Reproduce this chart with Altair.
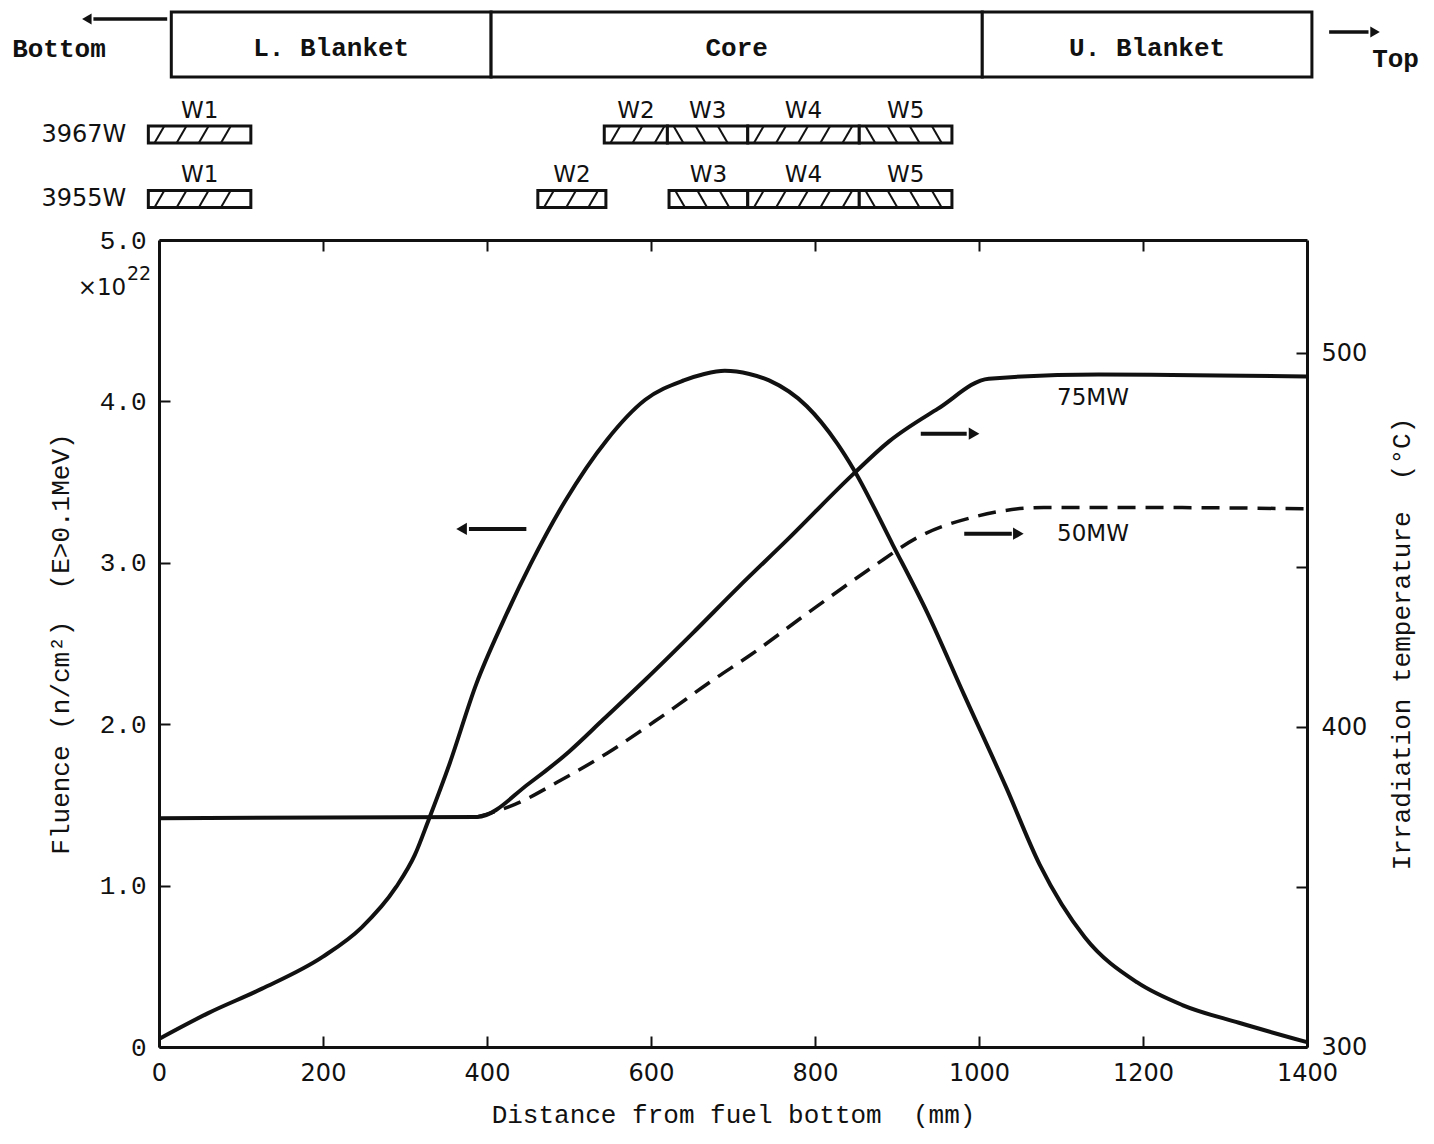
import altair as alt
import pandas as pd

# ---------------- data ----------------
# Fast-neutron fluence (x10^22 n/cm2, E>0.1MeV) vs distance from fuel bottom (mm)
flu_x = [0, 60, 125, 200, 247, 289, 312, 329, 354, 387, 420, 453, 495, 546, 593, 640,
         665, 690, 720, 744, 790, 827, 847, 895, 937, 982, 1033, 1074, 1129, 1193, 1248, 1317, 1400]
flu_y = [0.05, 0.21, 0.36, 0.56, 0.74, 0.99, 1.19, 1.41, 1.75, 2.25, 2.64, 2.99, 3.38, 3.76, 4.01, 4.13,
         4.17, 4.19, 4.17, 4.13, 3.97, 3.74, 3.58, 3.11, 2.69, 2.18, 1.61, 1.13, 0.68, 0.40, 0.26, 0.15, 0.03]

# Irradiation temperature (deg C), 75 MW (solid) and 50 MW (dashed)
t75_x = [0, 388, 452, 500, 542, 594, 650, 707, 767, 845, 890, 950, 1012, 1146, 1400]
t75_y = [371.5, 371.9, 382.5, 392.3, 402.4, 415.0, 429.1, 443.8, 456.5, 471.4, 479.3, 487.0,
         494.0, 495.0, 494.5]
t50_x = [388, 434, 486, 547, 612, 678, 719, 790, 868, 927, 996, 1079, 1202, 1400]
t50_y = [371.9, 375.8, 382.8, 391.9, 403.1, 415.1, 422.1, 435.4, 449.6, 457.1, 461.8, 463.9,
         463.9, 463.6]

# Core / blanket regions (mm)
region_names = ["L. Blanket", "Core", "U. Blanket"]
region_start = [15, 405, 1004]
region_end = [405, 1004, 1406]

# Specimen positions (mm)
spec_rows = ["3967W"] * 5 + ["3955W"] * 5
spec_names = ["W1", "W2", "W3", "W4", "W5"] * 2
spec_start = [-13, 543, 620, 718, 854, -13, 462, 622, 718, 854]
spec_end = [112, 620, 718, 854, 967, 112, 545, 718, 854, 967]
spec_hatch = ["/", "/", "\\", "/", "\\"] * 2

# axis ticks
x_ticks = [0, 200, 400, 600, 800, 1000, 1200, 1400]
x_top_ticks = [200, 400, 600, 800, 1000, 1200]
flu_ticks = [0, 1, 2, 3, 4, 5]
temp_ticks = [300, 350, 400, 450, 500]

# ---------------- styling ----------------
MONO = "Liberation Mono"
SANS = "DejaVu Sans"
W, H = 1148, 807
INK = "#111111"

# diagram layout (level above the plot top, in units of its own scale)
row_level = {"3967W": 105.5, "3955W": 41.0}
BAR_HALF = 8.5
BOX_TOP, BOX_BOT, BOX_TXT = 228, 163, 192

# ---------------- scales ----------------
xscale = alt.Scale(domain=[0, 1400], nice=False, zero=False)
flu_scale = alt.Scale(domain=[0, 5], nice=False, zero=False)
temp_scale = alt.Scale(domain=[300, 450, 500, 526.3], range=[H, 327, 113, 0], nice=False, zero=False)
diag_scale = alt.Scale(domain=[0, 235], range=[0, -235], nice=False, zero=False)

inward = {"expr": "-11"}

x_bottom_axis = alt.Axis(values=x_ticks, format="d", title="Distance from fuel bottom\u00a0\u00a0(mm)",
                         titleFont=MONO, titleFontSize=26, titleFontWeight="normal", titleColor=INK,
                         titlePadding=16, labelFont=SANS, labelFontSize=24, labelColor=INK,
                         labelPadding=25, tickSize=inward, tickWidth=2, tickColor=INK,
                         domainWidth=3, domainColor=INK, grid=False, labelFlush=False)
x_top_axis = alt.Axis(orient="top", values=x_top_ticks, labels=False, title=None,
                      tickSize=inward, tickWidth=2, tickColor=INK,
                      domainWidth=3, domainColor=INK, grid=False)
left_axis = alt.Axis(values=flu_ticks,
                     labelExpr="datum.value == 0 ? '0' : format(datum.value, '.1f')",
                     title="Fluence (n/cm\u00b2)\u00a0\u00a0(E>0.1MeV)",
                     titleFont=MONO, titleFontSize=26, titleFontWeight="normal", titleColor=INK,
                     titlePadding=26, labelFont=MONO, labelFontSize=26, labelColor=INK,
                     labelPadding=24, tickSize=inward, tickWidth=2, tickColor=INK,
                     domainWidth=3, domainColor=INK, grid=False, labelFlush=False)
right_axis = alt.Axis(orient="right", values=temp_ticks,
                      labelExpr="datum.value % 100 == 0 ? datum.label : ''",
                      title="Irradiation temperature\u00a0\u00a0(\u00b0C)", titleAngle=270,
                      titleFont=MONO, titleFontSize=26, titleFontWeight="normal", titleColor=INK,
                      titlePadding=48, labelFont=SANS, labelFontSize=24, labelColor=INK,
                      labelPadding=25, tickSize=inward, tickWidth=2, tickColor=INK,
                      domainWidth=3, domainColor=INK, grid=False, labelFlush=False)

# ---------------- fluence layer ----------------
flu_df = pd.DataFrame({"x": flu_x, "y": flu_y})
X_B = alt.X("x:Q", scale=xscale, axis=x_bottom_axis)
Y_F = alt.Y("y:Q", scale=flu_scale, axis=left_axis)

flu_line = alt.Chart(flu_df).mark_line(color=INK, strokeWidth=4, interpolate="monotone").encode(x=X_B, y=Y_F)

# arrows (shaft tail, shaft end, head) and labels
arrow_df = pd.DataFrame({
    "x": [448, 929, 982],
    "x2": [378, 985, 1040],
    "head": [369, 994, 1048],
    "y": [3.21, 3.80, 3.18],
    "shape": ["triangle-left", "triangle-right", "triangle-right"],
})
arrow_shaft = alt.Chart(arrow_df).mark_rule(color=INK, strokeWidth=4).encode(
    x=X_B, x2="x2:Q", y=Y_F)
arrow_head = alt.Chart(arrow_df).mark_point(filled=True, color=INK, size=150, opacity=1).encode(
    x=alt.X("head:Q", scale=xscale, axis=x_bottom_axis), y=Y_F,
    shape=alt.Shape("shape:N", scale=None))

lab_df = pd.DataFrame({"x": [1139, 1139], "y": [4.02, 3.18], "label": ["75MW", "50MW"]})
mw_labels = alt.Chart(lab_df).mark_text(font=SANS, fontSize=23, color=INK, align="center",
                                        baseline="middle").encode(x=X_B, y=Y_F, text="label:N")

exp_df = pd.DataFrame({"x": [-40], "y": [4.70], "label": ["\u00d710"]})
exp_main = alt.Chart(exp_df).mark_text(font=SANS, fontSize=23, color=INK, align="right",
                                       baseline="middle").encode(x=X_B, y=Y_F, text="label:N")
exp_sup_df = pd.DataFrame({"x": [-39], "y": [4.79], "label": ["22"]})
exp_sup = alt.Chart(exp_sup_df).mark_text(font=SANS, fontSize=19, color=INK, align="left",
                                          baseline="middle").encode(x=X_B, y=Y_F, text="label:N")

flu_layer = alt.layer(flu_line, arrow_shaft, arrow_head, mw_labels, exp_main, exp_sup)

# ---------------- temperature layer ----------------
X_T = alt.X("x:Q", scale=xscale, axis=x_top_axis)
Y_T = alt.Y("t:Q", scale=temp_scale, axis=right_axis)
t75 = alt.Chart(pd.DataFrame({"x": t75_x, "t": t75_y})).mark_line(
    color=INK, strokeWidth=4, interpolate="monotone").encode(x=X_T, y=Y_T)
t50 = alt.Chart(pd.DataFrame({"x": t50_x, "t": t50_y})).mark_line(
    color=INK, strokeWidth=3.5, strokeDash=[18, 10], interpolate="monotone").encode(x=X_T, y=Y_T)
temp_layer = alt.layer(t75, t50)

# ---------------- top diagram layer ----------------
X_D = alt.X("x:Q", scale=xscale, axis=None)
Y_D = alt.Y("y:Q", scale=diag_scale, axis=None)

reg_df = pd.DataFrame({"x": region_start, "x2": region_end, "y": [BOX_BOT] * 3, "y2": [BOX_TOP] * 3,
                       "label": region_names})
reg_df["xc"] = (reg_df["x"] + reg_df["x2"]) / 2
reg_df["yc"] = BOX_TXT
reg_box = alt.Chart(reg_df).mark_rect(fill="white", stroke=INK, strokeWidth=3).encode(
    x=X_D, x2="x2:Q", y=Y_D, y2="y2:Q")
reg_txt = alt.Chart(reg_df).mark_text(font=MONO, fontSize=26, fontWeight="bold", color=INK,
                                      baseline="middle").encode(
    x=alt.X("xc:Q", scale=xscale, axis=None), y=alt.Y("yc:Q", scale=diag_scale, axis=None), text="label:N")

spec_df = pd.DataFrame({"row": spec_rows, "name": spec_names, "x": spec_start, "x2": spec_end,
                        "hatch": spec_hatch})
spec_df["y"] = spec_df["row"].map(row_level) - BAR_HALF
spec_df["y2"] = spec_df["row"].map(row_level) + BAR_HALF
spec_df["xc"] = (spec_df["x"] + spec_df["x2"]) / 2
spec_df["yl"] = spec_df["row"].map(row_level) + 24

# hatch strokes inside each specimen bar (decoration)
hatch_rows = []
for _, r in spec_df.iterrows():
    step, d = 27.0, 12.0
    pos = r["x"] + step / 2
    while pos + d / 2 <= r["x2"] - 2:
        if r["hatch"] == "/":
            hatch_rows.append({"x": pos - d / 2, "x2": pos + d / 2, "y": r["y"], "y2": r["y2"]})
        else:
            hatch_rows.append({"x": pos - d / 2, "x2": pos + d / 2, "y": r["y2"], "y2": r["y"]})
        pos += step
hatch_df = pd.DataFrame(hatch_rows)

spec_box = alt.Chart(spec_df).mark_rect(fill="white", stroke=INK, strokeWidth=3).encode(
    x=X_D, x2="x2:Q", y=Y_D, y2="y2:Q")
spec_hatch_m = alt.Chart(hatch_df).mark_rule(color=INK, strokeWidth=2).encode(
    x=X_D, x2="x2:Q", y=Y_D, y2="y2:Q")
spec_txt = alt.Chart(spec_df).mark_text(font=SANS, fontSize=23, color=INK, baseline="middle").encode(
    x=alt.X("xc:Q", scale=xscale, axis=None), y=alt.Y("yl:Q", scale=diag_scale, axis=None), text="name:N")

row_df = pd.DataFrame({"x": [-40, -40], "y": [row_level["3967W"], row_level["3955W"]],
                       "label": ["3967W", "3955W"]})
row_txt = alt.Chart(row_df).mark_text(font=SANS, fontSize=24, color=INK, align="right",
                                      baseline="middle").encode(x=X_D, y=Y_D, text="label:N")

end_df = pd.DataFrame({"x": [-122, 1508], "y": [191, 181], "label": ["Bottom", "Top"]})
end_txt = alt.Chart(end_df).mark_text(font=MONO, fontSize=26, color=INK, fontWeight="bold",
                                      baseline="middle").encode(x=X_D, y=Y_D, text="label:N")

end_arrow_df = pd.DataFrame({"x": [10, 1427], "x2": [-80, 1475], "head": [-88, 1483], "y": [221, 208],
                             "shape": ["triangle-left", "triangle-right"]})
end_shaft = alt.Chart(end_arrow_df).mark_rule(color=INK, strokeWidth=3.5).encode(x=X_D, x2="x2:Q", y=Y_D)
end_head = alt.Chart(end_arrow_df).mark_point(filled=True, color=INK, size=120, opacity=1).encode(
    x=alt.X("head:Q", scale=xscale, axis=None), y=Y_D, shape=alt.Shape("shape:N", scale=None))

diag_layer = alt.layer(reg_box, reg_txt, spec_box, spec_hatch_m, spec_txt, row_txt, end_txt,
                       end_shaft, end_head)

chart = alt.layer(flu_layer, temp_layer, diag_layer).resolve_scale(
    y="independent").resolve_axis(x="independent", y="independent").properties(
    width=W, height=H, padding={"left": 4, "top": 2, "right": 6, "bottom": 7},
    background="white").configure_view(stroke=None)

chart.save("out.html", embed_options={"renderer": "svg", "actions": False})
